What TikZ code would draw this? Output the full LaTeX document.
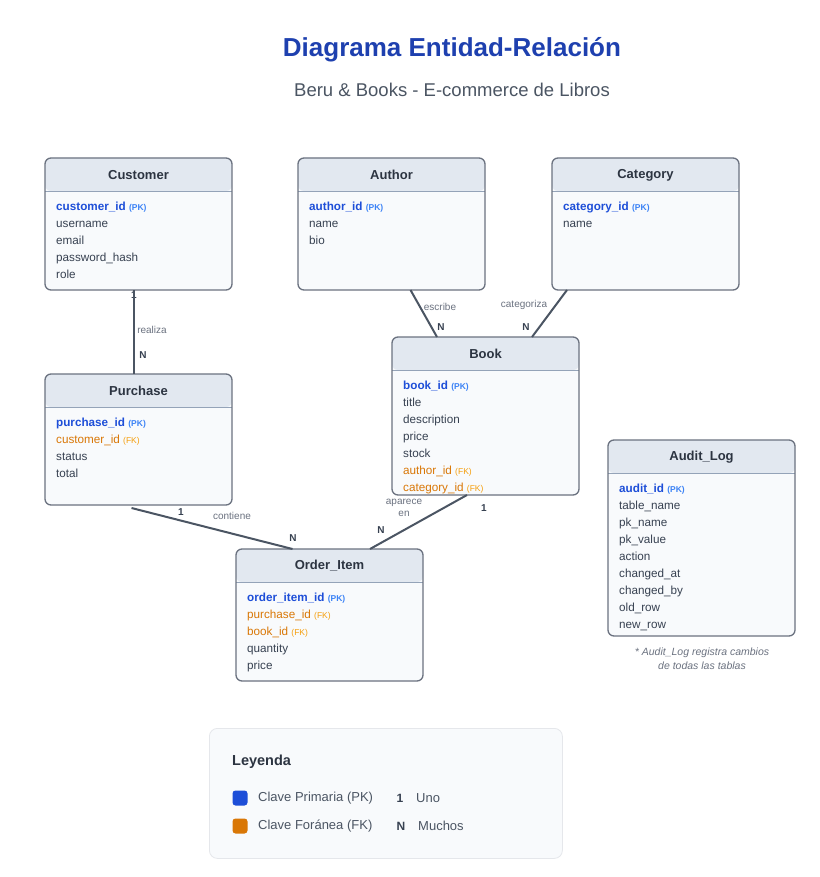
\documentclass[tikz,border=0pt]{standalone}
\usepackage{fontspec}
\setmainfont{Liberation Sans}
\usepackage{tikz}
\usetikzlibrary{positioning}
\definecolor{titleblue}{HTML}{1E40AF}
\definecolor{subgray}{HTML}{4B5563}
\definecolor{headfill}{HTML}{E2E8F0}
\definecolor{bodyfill}{HTML}{F8FAFC}
\definecolor{boxline}{HTML}{6B7280}
\definecolor{sepline}{HTML}{94A3B8}
\definecolor{pkblue}{HTML}{1D4ED8}
\definecolor{pklight}{HTML}{3B82F6}
\definecolor{fkorange}{HTML}{D97706}
\definecolor{fklight}{HTML}{F59E0B}
\definecolor{rowtext}{HTML}{374151}
\definecolor{connline}{HTML}{4B5563}
\definecolor{relgray}{HTML}{6B7280}
\definecolor{legline}{HTML}{E5E7EB}
\newcommand{\pkf}[1]{\textcolor{pkblue}{\textbf{#1}} {\fontsize{8.5}{8}\selectfont\bfseries\textcolor{pklight}{(PK)}}}
\newcommand{\fkf}[1]{\textcolor{fkorange}{#1} {\fontsize{8.5}{8}\selectfont\textcolor{fklight}{(FK)}}}
\begin{document}
\begin{tikzpicture}[x=1pt,y=-1pt,
  entity/.style={draw=boxline, line width=1.3pt, rounded corners=6pt, fill=bodyfill, anchor=north west, outer sep=0pt, minimum width=187pt,
    path picture={\fill[headfill] (path picture bounding box.north west) rectangle ([yshift=-33pt]path picture bounding box.north east);
      \draw[sepline, line width=0.8pt] ([yshift=-33pt]path picture bounding box.north west) -- ([yshift=-33pt]path picture bounding box.north east);}},
  enttitle/.style={font=\fontsize{13}{15}\selectfont\bfseries, text=rowtext!80!black},
  fields/.style={anchor=north west, align=left, inner sep=0pt, font=\fontsize{11.7}{17}\selectfont, text=rowtext},
  conn/.style={draw=connline, line width=2pt},
  rel/.style={font=\fontsize{10}{12}\selectfont, text=relgray, inner sep=1pt},
  card/.style={font=\fontsize{10}{11}\selectfont\bfseries, text=rowtext, inner sep=1pt},
  legtext/.style={anchor=west, font=\fontsize{13}{14}\selectfont, text=subgray, inner sep=0pt},
  keysq/.style={minimum size=15pt, inner sep=0pt, rounded corners=3pt}]
\path[fill=white] (0,0) rectangle (819,877);
\node[font=\fontsize{26}{30}\selectfont\bfseries, text=titleblue] (title) at (452,50) {Diagrama Entidad-Relación};
\node[font=\fontsize{18.5}{22}\selectfont, text=subgray] (subtitle) at (452,90) {Beru \& Books - E-commerce de Libros};

\node[entity, minimum height=132pt] (customer) at (45,158) {};
\node[enttitle] (customer-t) at ([yshift=-17pt]customer.north) {Customer};
\node[fields] (customer-f) at ([xshift=11pt,yshift=-44pt]customer.north west) {\pkf{customer\_id}\\username\\email\\password\_hash\\role};

\node[entity, minimum height=132pt] (author) at (298,158) {};
\node[enttitle] (author-t) at ([yshift=-17pt]author.north) {Author};
\node[fields] (author-f) at ([xshift=11pt,yshift=-44pt]author.north west) {\pkf{author\_id}\\name\\bio};

\node[entity, minimum height=132pt] (category) at (552,158) {};
\node[enttitle] (category-t) at ([yshift=-17pt]category.north) {Category};
\node[fields] (category-f) at ([xshift=11pt,yshift=-44pt]category.north west) {\pkf{category\_id}\\name};

\node[entity, minimum height=158pt] (book) at (392,337) {};
\node[enttitle] (book-t) at ([yshift=-17pt]book.north) {Book};
\node[fields] (book-f) at ([xshift=11pt,yshift=-44pt]book.north west) {\pkf{book\_id}\\title\\description\\price\\stock\\\fkf{author\_id}\\\fkf{category\_id}};

\node[entity, minimum height=131pt] (purchase) at (45,374) {};
\node[enttitle] (purchase-t) at ([yshift=-17pt]purchase.north) {Purchase};
\node[fields] (purchase-f) at ([xshift=11pt,yshift=-44pt]purchase.north west) {\pkf{purchase\_id}\\\fkf{customer\_id}\\status\\total};

\node[entity, minimum height=132pt] (order) at (236,549) {};
\node[enttitle] (order-t) at ([yshift=-17pt]order.north) {Order\_Item};
\node[fields] (order-f) at ([xshift=11pt,yshift=-44pt]order.north west) {\pkf{order\_item\_id}\\\fkf{purchase\_id}\\\fkf{book\_id}\\quantity\\price};

\node[entity, minimum height=196pt] (audit) at (608,440) {};
\node[enttitle] (audit-t) at ([yshift=-17pt]audit.north) {Audit\_Log};
\node[fields] (audit-f) at ([xshift=11pt,yshift=-44pt]audit.north west) {\pkf{audit\_id}\\table\_name\\pk\_name\\pk\_value\\action\\changed\_at\\changed\_by\\old\_row\\new\_row};
\node[align=center, font=\fontsize{10.5}{14}\selectfont\itshape, text=relgray] (audit-note) at (702,659) {* Audit\_Log registra cambios\\de todas las tablas};

\node[card] (c-cust) at (134,295) {1};
\draw[conn] ([xshift=-4.5pt]customer.south) -- ([xshift=-4.5pt]purchase.north);
\node[rel] (r-realiza) at (152,330) {realiza};
\node[card] (c-purch) at (143,355) {N};

\draw[conn] ([xshift=19pt]author.south) -- ([xshift=-48.5pt]book.north);
\node[rel] (r-escribe) at (440,307) {escribe};
\node[card] (c-book1) at (441,327) {N};

\draw[conn] ([xshift=-78.5pt]category.south) -- ([xshift=46.5pt]book.north);
\node[rel] (r-categoriza) at (524,305) {categoriza};
\node[card] (c-book2) at (526,327) {N};

\draw[conn] ([xshift=-7pt,yshift=-3pt]purchase.south) -- ([xshift=-37pt]order.north);
\node[card] (c-purch2) at (181,512) {1};
\node[rel] (r-contiene) at (232,516) {contiene};
\node[card] (c-order1) at (293,538) {N};

\draw[conn] ([xshift=-18.5pt]book.south) -- ([xshift=40.5pt]order.north);
\node[rel, align=center, font=\fontsize{10}{12}\selectfont] (r-aparece) at (404,508) {aparece\\en};
\node[card] (c-book3) at (484,508) {1};
\node[card] (c-order2) at (381,530) {N};

\node[draw=legline, fill=bodyfill, line width=0.8pt, rounded corners=8pt, anchor=north west, minimum width=353pt, minimum height=130pt] (legend) at (209,728) {};
\node[anchor=west, inner sep=0pt, font=\fontsize{14.5}{16}\selectfont\bfseries, text=rowtext!80!black] (legend-t) at (232,762) {Leyenda};
\node[keysq, fill=pkblue] (k-pk) at (240,798) {};
\node[legtext] (t-pk) at (258,798) {Clave Primaria (PK)};
\node[card, font=\fontsize{12}{14}\selectfont\bfseries] (k-one) at (400,798) {1};
\node[legtext] (t-one) at (416,798) {Uno};
\node[keysq, fill=fkorange] (k-fk) at (240,826) {};
\node[legtext] (t-fk) at (258,826) {Clave Foránea (FK)};
\node[card, font=\fontsize{12}{14}\selectfont\bfseries] (k-many) at (401,826) {N};
\node[legtext] (t-many) at (418,826) {Muchos};
\end{tikzpicture}
\end{document}
